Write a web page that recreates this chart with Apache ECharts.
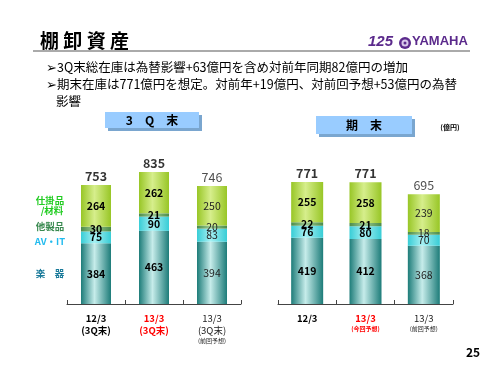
<!DOCTYPE html>
<html><head><meta charset="utf-8">
<script src="https://cdn.jsdelivr.net/npm/echarts@6/dist/echarts.min.js"></script>
<style>html,body{margin:0;padding:0;background:#fff}#c{width:500px;height:375px}</style>
</head><body><div id="c"></div>
<script>
// ---- data ----
var seriesNames = ['楽器', 'AV・IT', '他製品', '仕掛品/材料'];
// 3Q末 (left panel)
var q3Cats = ['12/3', '13/3', '13/3'];
var q3Sub = ['(3Q末)', '(3Q末)', '(3Q末)'];
var q3Note = ['', '', '(前回予想)'];
var q3Gakki = [384, 463, 394];
var q3AVIT = [75, 90, 83];
var q3Other = [30, 21, 20];
var q3WIP = [264, 262, 250];
var q3Total = [753, 835, 746];
// 期末 (right panel)
var fyCats = ['12/3', '13/3', '13/3'];
var fyNote = ['', '(今回予想)', '(前回予想)'];
var fyGakki = [419, 412, 368];
var fyAVIT = [76, 80, 70];
var fyOther = [22, 21, 18];
var fyWIP = [255, 258, 239];
var fyTotal = [771, 771, 695];

var JP = '"Noto Sans CJK JP", "Noto Sans", sans-serif';
function grad(edge, mid) {
  return {type: 'linear', x: 0, y: 0, x2: 1, y2: 0,
    colorStops: [{offset: 0, color: edge}, {offset: 0.45, color: mid}, {offset: 1, color: edge}]};
}
var fills = [grad('#1d7c79', '#c6ecea'), grad('#38cdd6', '#a6f0f2'), grad('#4b8c4b', '#9cca90'), grad('#98c626', '#d6ee8c')];

function items(arr) {
  return arr.map(function (v, i) {
    return {value: v, label: {fontWeight: i < 2 ? 'bold' : 'normal', color: i < 2 ? '#000' : '#222'}};
  });
}
function stackSeries(idx, lists, barW) {
  return lists.map(function (arr, k) {
    return {
      name: seriesNames[k], type: 'bar', stack: 's' + idx, xAxisIndex: idx, yAxisIndex: idx,
      barWidth: barW, data: items(arr),
      itemStyle: {color: fills[k]},
      label: {show: true, position: 'inside', fontSize: 10.5, fontFamily: JP},
      emphasis: {disabled: true}
    };
  });
}
function totalSeries(idx, arr) {
  return {
    type: 'scatter', xAxisIndex: idx, yAxisIndex: idx, symbolSize: 0,
    data: arr.map(function (v, i) {
      return {value: v, label: {fontWeight: i < 2 ? 'bold' : 'normal', color: i < 2 ? '#000' : '#222'}};
    }),
    label: {show: true, position: 'top', distance: 3, fontSize: 12.5, fontFamily: JP},
    silent: true
  };
}
var catStyles = {
  a0: {fontWeight: 'bold', color: '#000', fontSize: 9.5, lineHeight: 12, fontFamily: JP},
  a1: {fontWeight: 'bold', color: '#ff0000', fontSize: 9.5, lineHeight: 12, fontFamily: JP},
  a2: {fontWeight: 'normal', color: '#222', fontSize: 9.5, lineHeight: 12, fontFamily: JP},
  n1: {fontWeight: 'bold', color: '#ff0000', fontSize: 6, lineHeight: 9, fontFamily: JP},
  n2: {fontWeight: 'normal', color: '#222', fontSize: 6, lineHeight: 9, fontFamily: JP}
};
function xAx(idx, cats, subs, notes) {
  return {
    type: 'category', gridIndex: idx, data: cats,
    axisLine: {lineStyle: {color: '#444', width: 1}},
    axisTick: {show: true, inside: true, length: 4, lineStyle: {color: '#444'}},
    axisLabel: {
      margin: 8, interval: 0, rich: catStyles,
      formatter: function (v, i) {
        var s = '{a' + i + '|' + v + '}';
        if (subs && subs[i]) s += '\n{a' + i + '|' + subs[i] + '}';
        if (notes[i]) s += '\n{n' + i + '|' + notes[i] + '}';
        return s;
      }
    }
  };
}
function yAx(idx) {
  return {type: 'value', gridIndex: idx, min: 0, max: 1000, show: false, splitLine: {show: false}};
}

var graphic = [
  {type: 'text', left: 40, top: 31, style: {text: '棚 卸 資 産', font: 'bold 19px ' + JP, fill: '#000'}},
  {type: 'line', shape: {x1: 33, y1: 51, x2: 470, y2: 51}, style: {stroke: '#aaaaaa', lineWidth: 2}},
  {type: 'text', left: 368, top: 34, style: {text: '125', font: 'italic bold 15px "Liberation Sans", sans-serif', fill: '#5b2a8c'}},
  {type: 'circle', shape: {cx: 405, cy: 43, r: 6}, style: {fill: '#5b2a8c'}},
  {type: 'circle', shape: {cx: 405, cy: 43, r: 3.5}, style: {fill: '#d8c8ea'}},
  {type: 'circle', shape: {cx: 405, cy: 43, r: 1.5}, style: {fill: '#5b2a8c'}},
  {type: 'text', left: 412, top: 35, style: {text: 'YAMAHA', font: 'bold 13px "Liberation Sans", sans-serif', fill: '#5b2a8c'}},
  {type: 'text', left: 46, top: 61, style: {text: '➢3Q末総在庫は為替影響+63億円を含め対前年同期82億円の増加', font: '12.5px ' + JP, fill: '#000'}},
  {type: 'text', left: 46, top: 78, style: {text: '➢期末在庫は771億円を想定。対前年+19億円、対前回予想+53億円の為替', font: '12.5px ' + JP, fill: '#000'}},
  {type: 'text', left: 56, top: 95, style: {text: '影響', font: '12.5px ' + JP, fill: '#000'}},
  // boxes
  {type: 'rect', shape: {x: 108, y: 115, width: 94, height: 16}, style: {fill: '#7aa6cf'}},
  {type: 'rect', shape: {x: 105, y: 112, width: 94, height: 16}, style: {fill: '#99ccff'}},
  {type: 'text', x: 152, y: 120, style: {text: '3　Q　末', font: 'bold 12px ' + JP, fill: '#000', align: 'center', verticalAlign: 'middle'}},
  {type: 'rect', shape: {x: 319, y: 119, width: 96, height: 18}, style: {fill: '#7aa6cf'}},
  {type: 'rect', shape: {x: 316, y: 116, width: 96, height: 18}, style: {fill: '#99ccff'}},
  {type: 'text', x: 364, y: 125, style: {text: '期　末', font: 'bold 12px ' + JP, fill: '#000', align: 'center', verticalAlign: 'middle'}},
  {type: 'text', x: 450, y: 127, style: {text: '(億円)', font: 'bold 7px ' + JP, fill: '#000', align: 'center', verticalAlign: 'middle'}},
  // legend labels
  {type: 'text', x: 50, y: 200, style: {text: '仕掛品', font: 'bold 9.5px ' + JP, fill: '#22cc22', align: 'center', verticalAlign: 'middle'}},
  {type: 'text', x: 52, y: 210, style: {text: '/材料', font: 'bold 9.5px ' + JP, fill: '#22cc22', align: 'center', verticalAlign: 'middle'}},
  {type: 'text', x: 50, y: 226, style: {text: '他製品', font: 'bold 9.5px ' + JP, fill: '#3a8a50', align: 'center', verticalAlign: 'middle'}},
  {type: 'text', x: 50, y: 241, style: {text: 'AV・IT', font: 'bold 9.5px ' + JP, fill: '#22bbee', align: 'center', verticalAlign: 'middle'}},
  {type: 'text', x: 50, y: 273, style: {text: '楽　器', font: 'bold 9.5px ' + JP, fill: '#1a7a9a', align: 'center', verticalAlign: 'middle'}},
  {type: 'text', x: 473, y: 352, style: {text: '25', font: 'bold 12px ' + JP, fill: '#000', align: 'center', verticalAlign: 'middle'}}
];

var chart = echarts.init(document.getElementById('c'), null, {renderer: 'canvas'});
chart.setOption({
  animation: false,
  backgroundColor: '#ffffff',
  grid: [
    {left: 67, width: 174, top: 146, bottom: 71},
    {left: 278, width: 175, top: 146, bottom: 71}
  ],
  xAxis: [xAx(0, q3Cats, q3Sub, q3Note), xAx(1, fyCats, null, fyNote)],
  yAxis: [yAx(0), yAx(1)],
  series: []
    .concat(stackSeries(0, [q3Gakki, q3AVIT, q3Other, q3WIP], 30))
    .concat([totalSeries(0, q3Total)])
    .concat(stackSeries(1, [fyGakki, fyAVIT, fyOther, fyWIP], 32))
    .concat([totalSeries(1, fyTotal)]),
  graphic: graphic
});
</script></body></html>
